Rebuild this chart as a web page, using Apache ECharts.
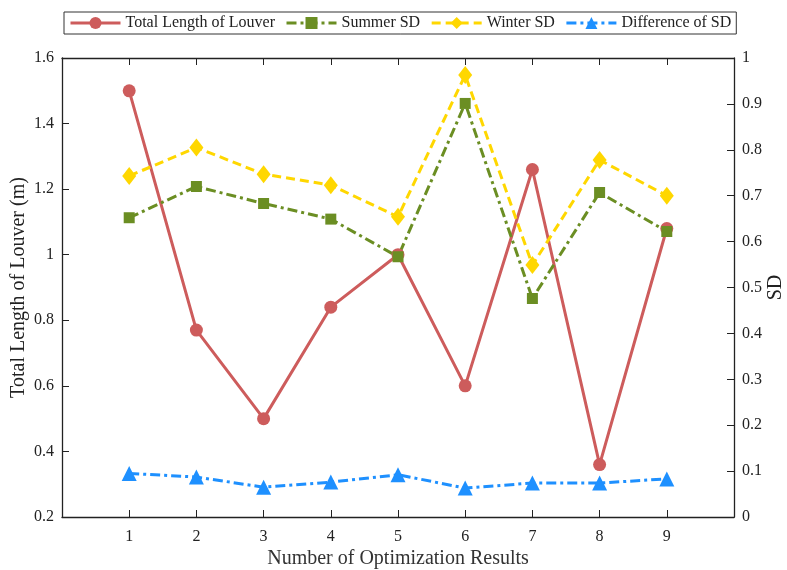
<!DOCTYPE html>
<html lang="en">
<head>
	<meta charset="UTF-8">
	<title>Louver optimization</title>
	<style>
		html, body { margin: 0; padding: 0; background: #fff; }
	</style>
</head>
<body>
	<div id="container" style="width: 787px;height:570px;"></div>

	<script src="https://cdn.jsdelivr.net/npm/echarts@6/dist/echarts.min.js"></script>
	<script>
        var runs = [1, 2, 3, 4, 5, 6, 7, 8, 9];
        var totalLength = [1.5, 0.77, 0.5, 0.84, 1.0, 0.6, 1.26, 0.36, 1.08];
        var summerSD = [0.652, 0.720, 0.683, 0.649, 0.567, 0.901, 0.476, 0.707, 0.622];
        var winterSD = [0.743, 0.805, 0.747, 0.723, 0.654, 0.963, 0.549, 0.778, 0.700];
        var diffSD = [0.095, 0.087, 0.065, 0.076, 0.092, 0.063, 0.074, 0.074, 0.083];

        var font = 'Liberation Serif, Times New Roman, serif';
        var ink = '#222';

        function pairs(vals) {
            return runs.map(function (r, i) { return [r, vals[i]]; });
        }

        function makeSeries(name, vals, color, symbol, size, dash, yIndex) {
            return {
                name: name,
                type: 'line',
                yAxisIndex: yIndex,
                data: pairs(vals),
                symbol: symbol,
                symbolSize: size,
                lineStyle: { color: color, width: 3, type: dash },
                itemStyle: { color: color },
                emphasis: { disabled: true },
                z: 3
            };
        }

        // box-style axis: line + inward ticks, never snapped to zero
        function tickAxis(extra) {
            var base = {
                nameMoveOverlap: false,
                axisLine: { show: true, onZero: false, lineStyle: { color: ink, width: 1.3 } },
                axisTick: { show: true, inside: true, length: 7, lineStyle: { color: ink } },
                minorTick: { show: false },
                splitLine: { show: false }
            };
            for (var k in extra) base[k] = extra[k];
            return base;
        }

        var option = {
            animation: false,
            textStyle: { fontFamily: font },
            legend: {
                top: 12,
                left: 64,
                borderColor: '#333',
                borderWidth: 1,
                padding: [3, 5, 3, 5],
                itemGap: 10,
                itemWidth: 50,
                itemHeight: 15,
                lineStyle: { width: 3 },
                textStyle: { fontFamily: font, fontSize: 16, color: ink },
                data: ['Total Length of Louver', 'Summer SD', 'Winter SD', 'Difference of SD']
            },
            grid: { left: 62, right: 53, top: 58, bottom: 53, containLabel: false, outerBoundsMode: 'none' },
            xAxis: [tickAxis({
                type: 'value',
                position: 'bottom',
                min: 0, max: 10, interval: 1,
                name: 'Number of Optimization Results',
                nameLocation: 'middle',
                nameGap: 32,
                nameTextStyle: { fontFamily: font, fontSize: 20, color: '#333' },
                axisLabel: {
                    fontFamily: font, fontSize: 16, color: ink, margin: 12,
                    formatter: function (v) { return (v === 0 || v === 10) ? '' : v; }
                }
            }), tickAxis({
                type: 'value',
                position: 'top',
                min: 0, max: 10, interval: 1,
                axisLabel: { show: false }
            })],
            yAxis: [tickAxis({
                type: 'value',
                position: 'left',
                min: 0.2, max: 1.6, interval: 0.2,
                name: 'Total Length of Louver (m)',
                nameLocation: 'middle',
                nameGap: 33,
                nameTextStyle: { fontFamily: font, fontSize: 20, color: ink },
                axisLabel: {
                    fontFamily: font, fontSize: 16, color: ink, margin: 8,
                    formatter: function (v) { return +v.toFixed(1); }
                }
            }), tickAxis({
                type: 'value',
                position: 'right',
                min: 0, max: 1, interval: 0.1,
                name: 'SD',
                nameLocation: 'middle',
                nameGap: 32,
                nameTextStyle: { fontFamily: font, fontSize: 20, color: ink },
                axisLabel: {
                    fontFamily: font, fontSize: 16, color: ink, margin: 8,
                    formatter: function (v) { return +v.toFixed(1); }
                }
            })],
            series: [
                makeSeries('Total Length of Louver', totalLength, '#cd5c5c', 'circle', 13, 'solid', 0),
                makeSeries('Summer SD', summerSD, '#6b8e23', 'rect', 11, [10, 4, 3, 4], 1),
                makeSeries('Winter SD', winterSD, '#ffd700', 'diamond', [14, 18], [9, 5], 1),
                makeSeries('Difference of SD', diffSD, '#1e90ff', 'triangle', 15, [10, 4, 3, 4], 1)
            ]
        };

        var myChart = echarts.init(document.getElementById('container'));
        myChart.setOption(option);
    </script>
</body>
</html>
